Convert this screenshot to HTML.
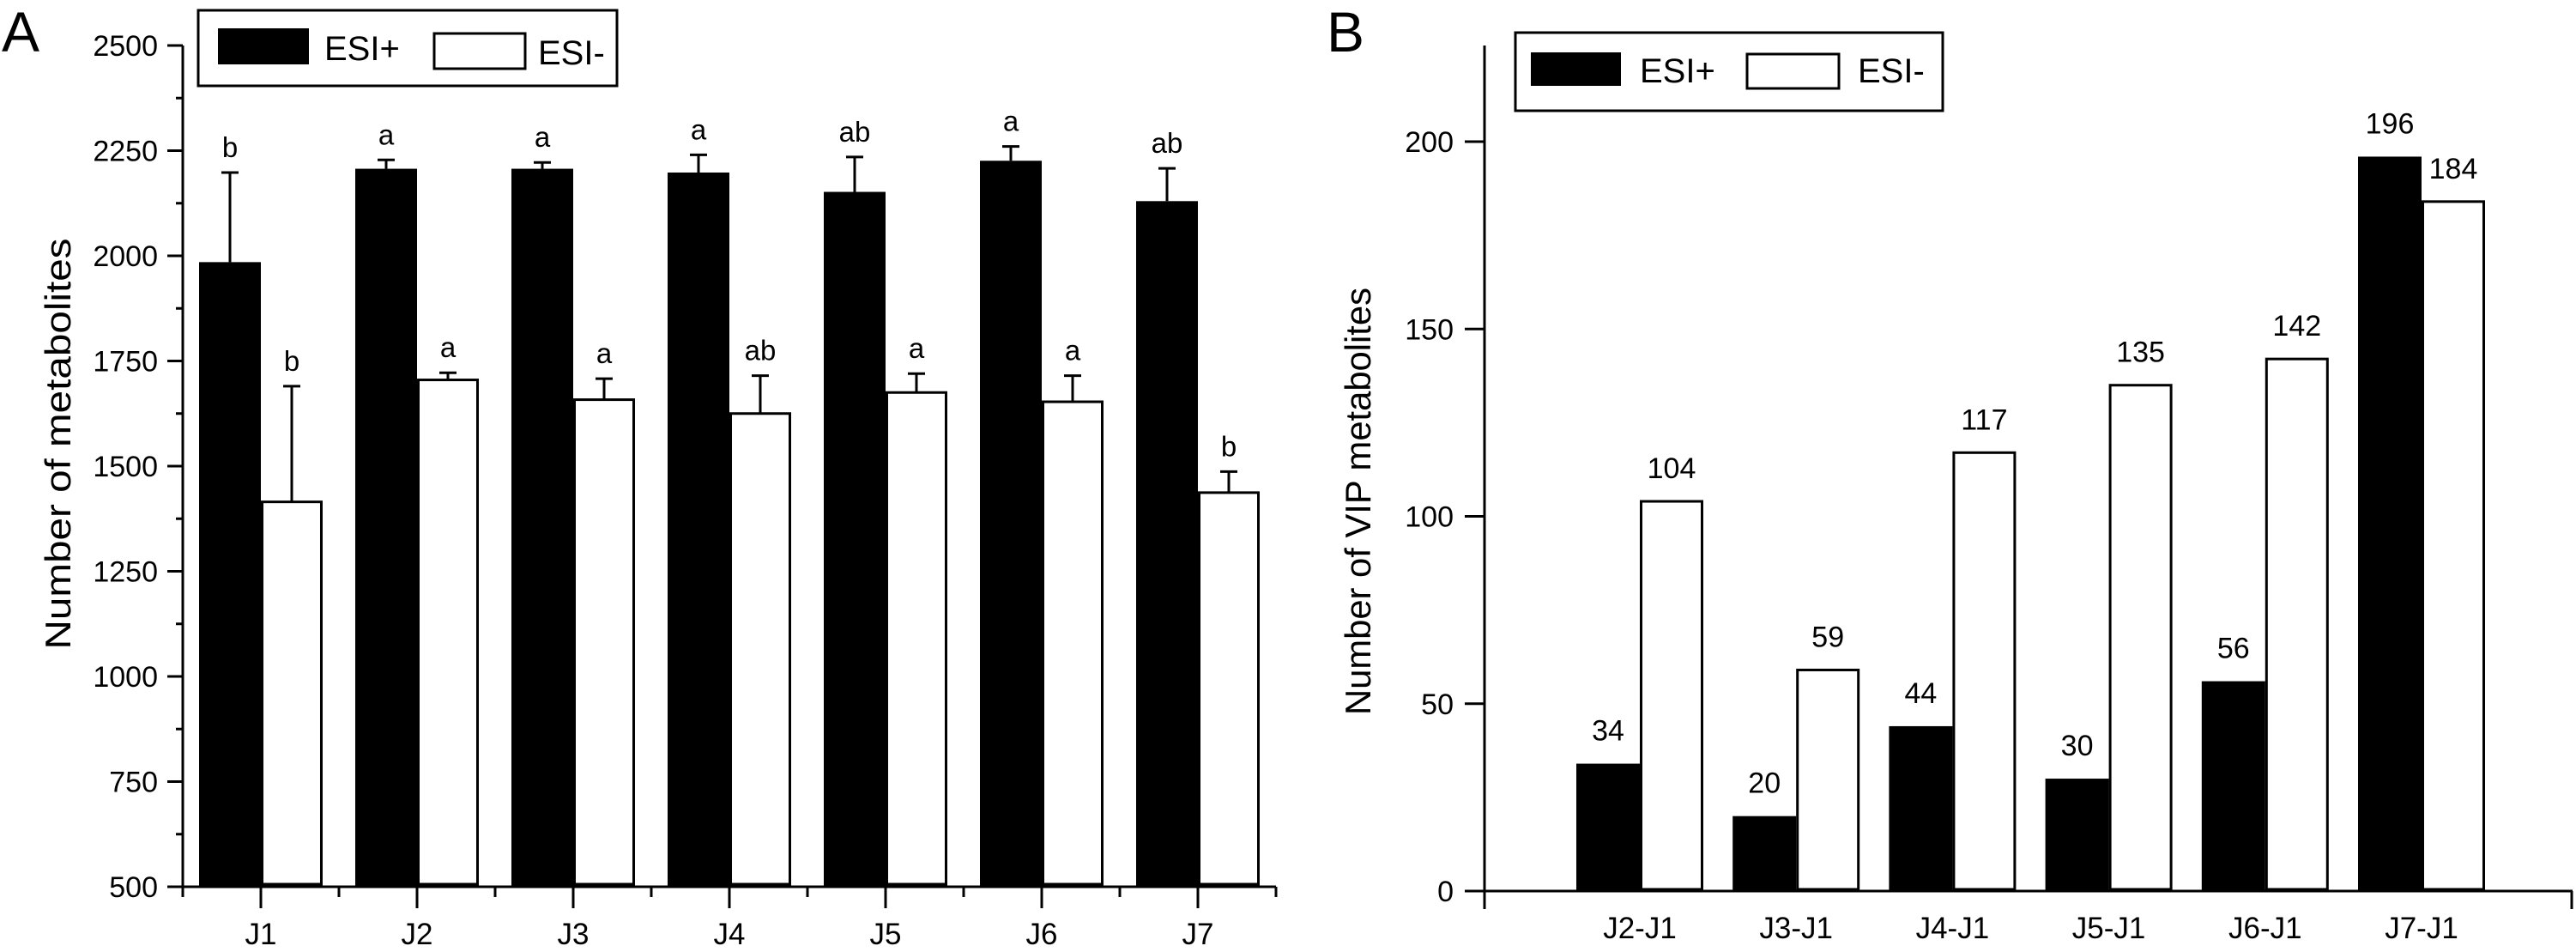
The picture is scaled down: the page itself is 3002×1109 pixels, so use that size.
<!DOCTYPE html>
<html><head><meta charset="utf-8"><style>
html,body{margin:0;padding:0;background:#fff;}
svg{display:block;font-family:"Liberation Sans",Arial,sans-serif;}
</style></head><body>
<svg id="fig" width="3002" height="1109" viewBox="0 0 3002 1109" xmlns="http://www.w3.org/2000/svg">
<rect width="3002" height="1109" fill="#fff"/>
<g id="pa"></g>
<g id="pb"></g>
</svg>
<script>
// Panel A data
const catsA = ["J1","J2","J3","J4","J5","J6","J7"];
const posA = [1985,2207,2207,2198,2152,2226,2130];
const posErrA = [2198,2228,2222,2240,2235,2260,2208];
const posLetA = ["b","a","a","a","ab","a","ab"];
const negA = [1415,1705,1658,1625,1675,1653,1437];
const negErrA = [1690,1722,1708,1715,1720,1715,1487];
const negLetA = ["b","a","a","ab","a","a","b"];
const ticksA = [500,750,1000,1250,1500,1750,2000,2250,2500];
// Panel B data
const catsB = ["J2-J1","J3-J1","J4-J1","J5-J1","J6-J1","J7-J1"];
const posB = [34,20,44,30,56,196];
const negB = [104,59,117,135,142,184];
const ticksB = [0,50,100,150,200];

const NS="http://www.w3.org/2000/svg";
function mk(parent,tag,attrs,text){const e=document.createElementNS(NS,tag);for(const k in attrs)e.setAttribute(k,attrs[k]);if(text!==undefined)e.textContent=text;parent.appendChild(e);return e;}

// ---------- Panel A ----------
const A=document.getElementById('pa');
const yA=v=>1033-(v-500)/2000*(1033-53);
const xA0=213,xA1=1487,stepA=(xA1-xA0)/7;
const cxA=i=>xA0+(i+0.5)*stepA;
const bwA=72;
let t=mk(A,'text',{x:2,y:60,'font-size':66},'A');


catsA.forEach((c,i)=>{
  const cx=cxA(i);
  let r=mk(A,'rect',{x:cx-bwA,y:yA(posA[i]),width:bwA,height:yA(500)-yA(posA[i]),fill:'#000'});
  
  
  let e=mk(A,'path',{d:`M${cx-bwA/2},${yA(posA[i])}V${yA(posErrA[i])}M${cx-bwA/2-10},${yA(posErrA[i])}H${cx-bwA/2+10}`,stroke:'#000','stroke-width':3,fill:'none'});
  
  
  let l=mk(A,'text',{x:cx-bwA/2,y:yA(posErrA[i])-18,'font-size':33,'text-anchor':'middle'},posLetA[i]);
  
  
  let r2=mk(A,'rect',{x:cx+1.5,y:yA(negA[i]),width:bwA-3,height:yA(500)-yA(negA[i])-3,fill:'#fff',stroke:'#000','stroke-width':3});
  
  
  let e2=mk(A,'path',{d:`M${cx+bwA/2},${yA(negA[i])}V${yA(negErrA[i])}M${cx+bwA/2-10},${yA(negErrA[i])}H${cx+bwA/2+10}`,stroke:'#000','stroke-width':3,fill:'none'});
  
  
  let l2=mk(A,'text',{x:cx+bwA/2,y:yA(negErrA[i])-18,'font-size':33,'text-anchor':'middle'},negLetA[i]);
  
  
  let tk=mk(A,'line',{x1:cx,y1:1033,x2:cx,y2:1058,stroke:'#000','stroke-width':3});
  
  
  let tl=mk(A,'text',{x:cx,y:1100,'font-size':35,'text-anchor':'middle'},c);
  
  
});
for(let k=0;k<=7;k++){
  const x=xA0+k*stepA;
  let m=mk(A,'line',{x1:x,y1:1033,x2:x,y2:1045,stroke:'#000','stroke-width':3});
  
  
}
ticksA.forEach((v,i)=>{
  const y=yA(v);
  let tk=mk(A,'line',{x1:195,y1:y,x2:213,y2:y,stroke:'#000','stroke-width':3});
  
  
  let tl=mk(A,'text',{x:184,y:y+12,'font-size':34,'text-anchor':'end'},String(v));
  
  
  if(i<ticksA.length-1){
    const ym=yA(v+125);
    let m=mk(A,'line',{x1:205,y1:ym,x2:213,y2:ym,stroke:'#000','stroke-width':3});
    
    
  }
});
let ax=mk(A,'path',{d:`M213,53V1033H1487`,stroke:'#000','stroke-width':3,fill:'none'});


let yt=mk(A,'text',{x:0,y:0,'font-size':42,'text-anchor':'middle',transform:'translate(82,517) rotate(-90)',textLength:479,lengthAdjust:'spacingAndGlyphs'},'Number of metabolites');


let lg=mk(A,'g',{});


mk(lg,'rect',{x:231,y:12,width:488,height:88,fill:'#fff',stroke:'#000','stroke-width':3});
mk(lg,'rect',{x:254,y:33,width:106,height:42,fill:'#000'});
mk(lg,'text',{x:378,y:70,'font-size':40},'ESI+');
mk(lg,'rect',{x:506,y:39,width:106,height:41,fill:'#fff',stroke:'#000','stroke-width':3});
mk(lg,'text',{x:627,y:75,'font-size':40},'ESI-');

// ---------- Panel B ----------
const B=document.getElementById('pb');
const yB=v=>1038-v/200*(1038-165);
const stepB=182.2;
const cxB=i=>1911+i*stepB;
const bwB=74;
t=mk(B,'text',{x:1546,y:60,'font-size':66},'B');


catsB.forEach((c,i)=>{
  const cx=cxB(i);
  let r=mk(B,'rect',{x:cx-bwB,y:yB(posB[i]),width:bwB,height:yB(0)-yB(posB[i]),fill:'#000'});
  
  
  let l=mk(B,'text',{x:cx-bwB/2,y:yB(posB[i])-27,'font-size':34,'text-anchor':'middle'},String(posB[i]));
  
  
  let r2=mk(B,'rect',{x:cx+1.5,y:yB(negB[i]),width:bwB-3,height:yB(0)-yB(negB[i])-2,fill:'#fff',stroke:'#000','stroke-width':3});
  
  
  let l2=mk(B,'text',{x:cx+bwB/2,y:yB(negB[i])-27,'font-size':34,'text-anchor':'middle'},String(negB[i]));
  
  
  let tl=mk(B,'text',{x:cx,y:1093,'font-size':35,'text-anchor':'middle'},c);
  
  
});
ticksB.forEach(v=>{
  const y=yB(v);
  let tk=mk(B,'line',{x1:1707,y1:y,x2:1730,y2:y,stroke:'#000','stroke-width':3});
  
  
  let tl=mk(B,'text',{x:1694,y:y+12,'font-size':34,'text-anchor':'end'},String(v));
  
  
});
let axb=mk(B,'path',{d:`M1730,53V1038H2998M1730,1038V1059M2997,1038V1059`,stroke:'#000','stroke-width':3,fill:'none'});


let ytb=mk(B,'text',{x:0,y:0,'font-size':42,'text-anchor':'middle',transform:'translate(1597,584) rotate(-90)',textLength:498,lengthAdjust:'spacingAndGlyphs'},'Number of VIP metabolites');


let lgb=mk(B,'g',{});


mk(lgb,'rect',{x:1766,y:38,width:498,height:91,fill:'#fff',stroke:'#000','stroke-width':3});
mk(lgb,'rect',{x:1784,y:61,width:105,height:39,fill:'#000'});
mk(lgb,'text',{x:1911,y:96,'font-size':40},'ESI+');
mk(lgb,'rect',{x:2036,y:63,width:107,height:40,fill:'#fff',stroke:'#000','stroke-width':3});
mk(lgb,'text',{x:2165,y:96,'font-size':40},'ESI-');
</script>
</body></html>
